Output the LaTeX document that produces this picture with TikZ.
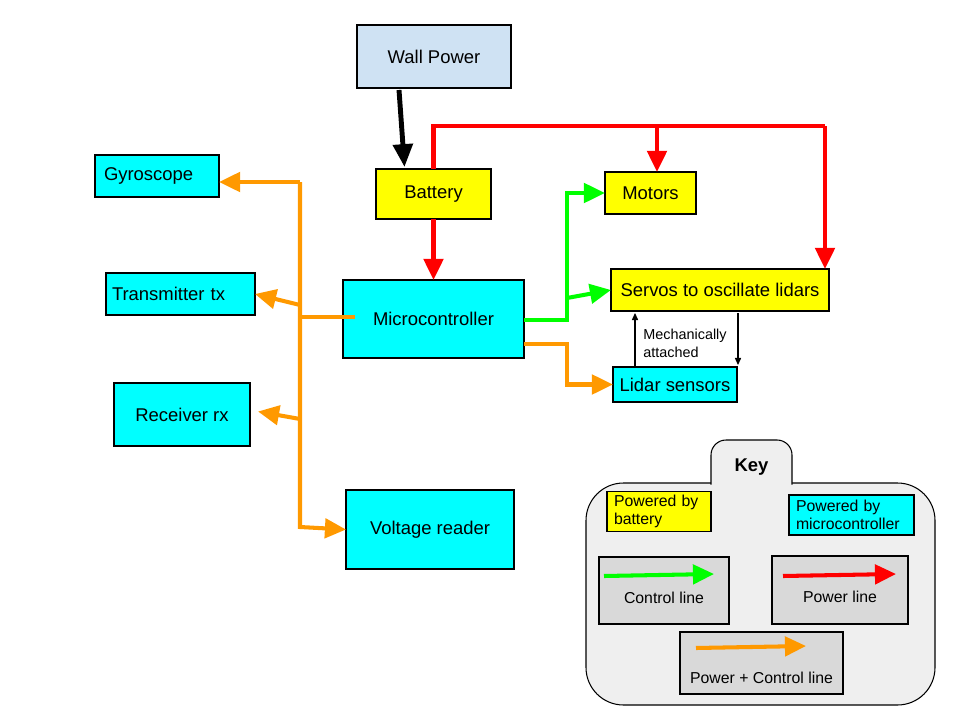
\documentclass[tikz,border=0pt]{standalone}
\usepackage{fontspec}
\setmainfont{Liberation Sans}
\usetikzlibrary{arrows.meta,calc}

\definecolor{wallblue}{HTML}{CFE2F3}
\definecolor{batyellow}{HTML}{FFFF00}
\definecolor{miccyan}{HTML}{00FFFF}
\definecolor{pwrred}{HTML}{FF0000}
\definecolor{ctlgreen}{HTML}{00FF00}
\definecolor{pcorange}{HTML}{FF9900}
\definecolor{keybg}{HTML}{EFEFEF}
\definecolor{keybox}{HTML}{D9D9D9}

\tikzset{
  sz/.style 2 args={minimum width=#1*0.02cm, minimum height=#2*0.02cm},
  box/.style={draw=black, line width=0.6pt, inner sep=2pt, outer sep=0pt,
    font=\fontsize{10.5}{12.6}\selectfont},
  wallbox/.style={box, fill=wallblue},
  batbox/.style={box, fill=batyellow},
  micbox/.style={box, fill=miccyan},
  legendbox/.style={box, fill=keybox, font=\fontsize{9}{11}\selectfont},
  bighead/.style={-{Triangle[length=12pt,width=11pt]}},
  pwr/.style={draw=pwrred, line width=2.3pt, bighead},
  pwrline/.style={draw=pwrred, line width=2.3pt},
  ctl/.style={draw=ctlgreen, line width=2.3pt, bighead},
  pc/.style={draw=pcorange, line width=2.3pt, bighead},
  pcline/.style={draw=pcorange, line width=2.3pt},
  mains/.style={draw=black, line width=2.8pt, -{Triangle[length=13pt,width=11pt]}},
  mech/.style={draw=black, line width=0.6pt, -{Triangle[length=4pt,width=3.5pt]}},
}

\begin{document}
\begin{tikzpicture}[x=0.02cm, y=-0.02cm]
\useasboundingbox (0,0) rectangle (960,720);

% ---- blocks ----
\node[wallbox, sz={154}{63}] (wall)   at (434,56.5)   {Wall Power};
\node[batbox,  sz={115}{50}] (bat)    at (433.5,194)  {Battery};
\node[batbox,  sz={91}{42}]  (motors) at (650.5,193)  {Motors};
\node[batbox,  sz={218}{42}] (servo)  at (720,290)    {Servos to oscillate lidars};
\node[micbox,  sz={181}{78}] (micro)  at (433.5,319)  {Microcontroller};
\node[micbox,  sz={124}{35}] (lidar)  at (675,384.5)  {Lidar sensors};
\node[micbox,  sz={124}{42}, align=left, text width=106*0.02cm] (gyro) at (157,176) {Gyroscope};
\node[micbox,  sz={149}{42}, align=left, text width=137*0.02cm] (tx)   at (180.5,294) {Transmitter tx};
\node[micbox,  sz={136}{63}] (rx)     at (182,414.5)  {Receiver rx};
\node[micbox,  sz={168}{79}] (volt)   at (430,529.5)  {Voltage reader};

% ---- mains to battery ----
\draw[mains] ($(wall.south)+(-35,2)$) -- ($(bat.north)+(-29,-2)$);

% ---- power lines ----
\coordinate (rtr)  at (825,126);
\coordinate (rmot) at (657,126);
\draw[pwr] (bat.south) -- (micro.north);
\draw[pwrline] (bat.north) |- (rtr);
\draw[pwr] (rtr) -- (rtr |- servo.north);
\draw[pwr] (rmot) -- (rmot |- motors.north);

% ---- control lines ----
\coordinate (gj) at (567,320);
\coordinate (gs) at (567,298);
\draw[ctl] (micro.east |- gj) -- (gj) |- (motors.west);
\draw[ctl] (gs) -- (servo.west);

% ---- power + control lines ----
\coordinate (oj) at (567,344);
\draw[pc] (micro.east |- oj) -- (oj) |- (lidar.west);

\coordinate (ot) at (300,182);
\coordinate (ob) at (300,527);
\coordinate (otx) at (300,305);
\coordinate (orx) at (300,419);
\draw[pcline] ($(micro.west)+(12,-2)$) -- (300,317);
\draw[pc] (ot) -- (ob) -- (volt.west);
\draw[pc] (ot) -- (gyro.east |- ot);
\draw[pc] (otx) -- (tx.east);
\draw[pc] (orx) -- ($(rx.east)+(8,-3)$);

% ---- mechanical coupling ----
\draw[mech] ($(lidar.north west)+(22,0)$) -- ($(lidar.north west)+(22,-54)$);
\draw[mech] ($(lidar.north east)+(1,-54)$) -- ($(lidar.north east)+(1,-2)$);
\node[anchor=west, align=left, inner sep=0pt, font=\fontsize{8.2}{10.2}\selectfont]
  (mechtxt) at (643,343) {Mechanically\\attached};

% ---- key ----
\fill[keybg, draw=black, line width=0.6pt, rounded corners=0.75cm]
  (586,483) rectangle (935,705);
\path[fill=keybg, draw=black, line width=0.6pt, rounded corners=0.3cm]
  (711,484.5) -- (711,440) -- (792,440) -- (792,484.5);
\node[font=\fontsize{10.5}{12.6}\selectfont\bfseries] (keytitle) at (751.5,467) {Key};

\node[batbox, sz={104}{39}, align=left, text width=90*0.02cm,
  font=\fontsize{9}{10.4}\selectfont] (kbat) at (659,511.5) {Powered by\\battery};
\node[micbox, sz={125}{40}, align=left, text width=111*0.02cm,
  font=\fontsize{9}{10.4}\selectfont] (kmic) at (851.5,515) {Powered by\\microcontroller};

\node[legendbox, sz={130}{67}, label={[font=\fontsize{9}{11}\selectfont, yshift=-0.14cm]center:Control line}] (kctl) at (664,590.5) {};
\node[legendbox, sz={136}{68}, label={[font=\fontsize{9}{11}\selectfont, yshift=-0.14cm]center:Power line}] (kpow) at (840,590) {};
\node[legendbox, sz={163}{62}, label={[font=\fontsize{9}{11}\selectfont, yshift=-0.3cm]center:Power + Control line}] (kpc) at (761.5,663) {};

\coordinate (kc1) at (604,576);
\coordinate (kc2) at (714,574);
\coordinate (kp1) at (783,576);
\coordinate (kp2) at (896,574);
\coordinate (ko1) at (696,648);
\coordinate (ko2) at (806,646);
\draw[ctl] (kc1) -- (kc2);
\draw[pwr] (kp1) -- (kp2);
\draw[pc] (ko1) -- (ko2);
\end{tikzpicture}
\end{document}
